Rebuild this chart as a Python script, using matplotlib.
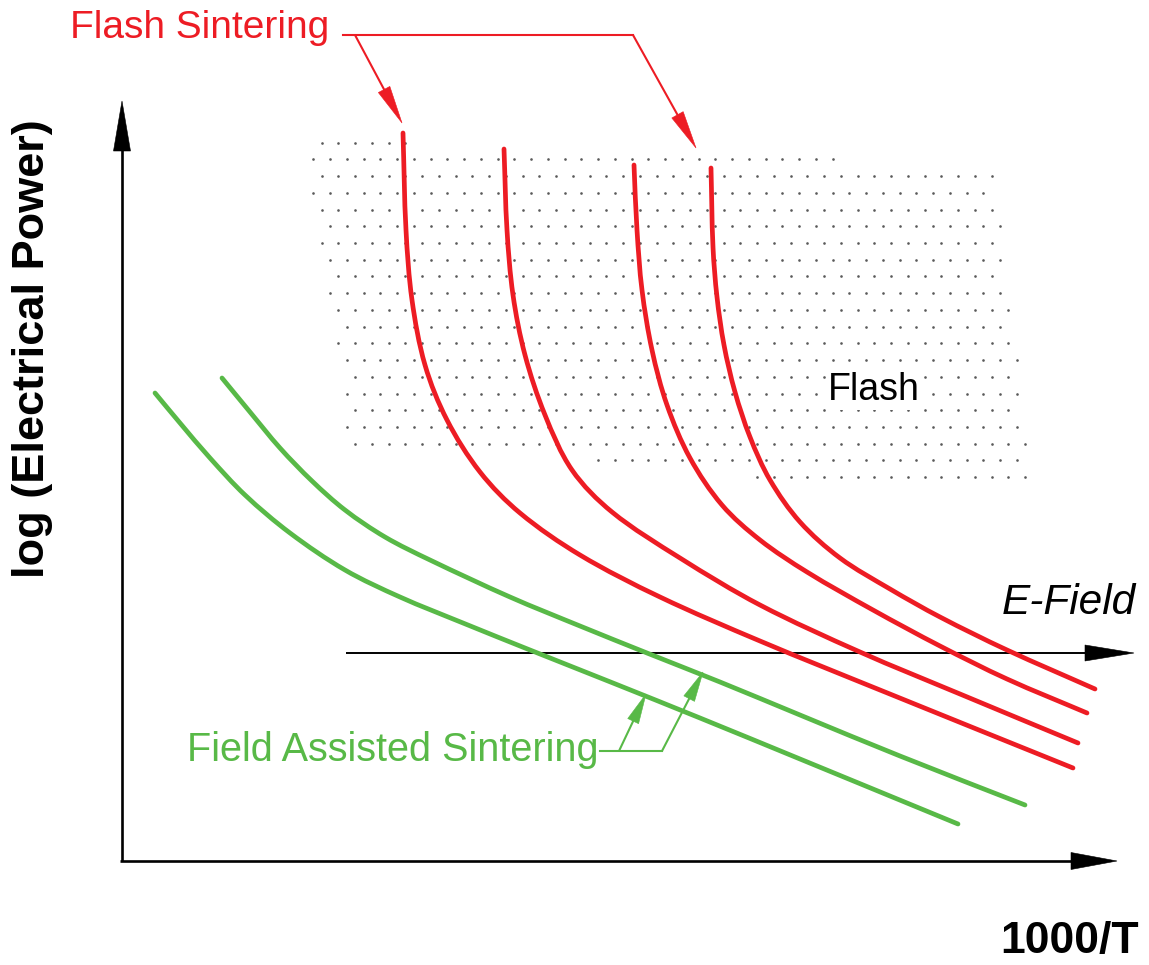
import numpy as np
import matplotlib
matplotlib.use("Agg")
import matplotlib.pyplot as plt
from matplotlib.patches import Polygon, PathPatch
from matplotlib.path import Path

plt.rcParams['font.family'] = ['Liberation Sans', 'DejaVu Sans']

RED = '#ed1c24'
GREEN = '#58b947'
DOT = '#5a5a5a'

# drawing units are pixels, y grows downward
W, H = 1149, 965

# flash sintering curves, one per field strength
flash_x = [
    [403, 406, 412, 425, 447, 480, 520, 580, 660, 760, 880, 1073],
    [504, 507, 513, 525, 545, 572, 612, 680, 760, 860, 960, 1078],
    [634, 637, 642, 652, 667, 690, 722, 760, 807, 873, 940, 1007, 1087],
    [711, 713, 717, 724, 735, 750, 770, 800, 840, 890, 940, 1007, 1095],
]
flash_y = [
    [133, 230, 300, 365, 420, 472, 513, 555, 597, 641, 690, 768],
    [149, 230, 295, 355, 415, 470, 512, 558, 605, 652, 694, 743],
    [165, 230, 290, 350, 405, 458, 505, 540, 572, 610, 646, 679, 713],
    [168, 247, 297, 345, 392, 437, 480, 522, 558, 589, 617, 650, 689],
]

# field assisted sintering curves
fas_x = [
    [155, 180, 210, 245, 290, 345, 400, 463, 530, 613, 700, 800, 958],
    [222, 250, 280, 312, 345, 385, 430, 510, 580, 647, 720, 800, 900, 1025],
]
fas_y = [
    [393, 423, 458, 495, 533, 570, 597, 623, 650, 683, 718, 759, 824],
    [378, 412, 448, 481, 510, 537, 560, 597, 626, 653, 682, 715, 756, 805],
]

# dotted "Flash" region: first/last column index of every dot row
dot_first = [0, 0, 0, 0, 0, 1, 0, 1, 1, 1, 1, 2, 1, 2, 2, 2, 2, 2, 2, 17, 26]
dot_last = [5, 31, 40, 40, 40, 41, 40, 41, 40, 41, 41, 41, 41, 42, 41, 42, 41, 42, 42, 42, 42]
dot_x0, dot_y0, dot_step_x, dot_step_y = 313.3, 142.7, 16.75, 16.72

# axes and E-field arrow: (tail, tip)
y_axis = ((122, 861), (122, 101))
x_axis = ((120, 861), (1117, 861))
efield_arrow = ((346, 653), (1134, 653))

# leader lines
flash_leader = [(343, 35), (633, 35)]
flash_pointers = [((355, 35), (402, 123)), ((633, 35), (696, 148))]
fas_leader = [(600, 751), (662, 751)]
fas_pointers = [((619, 751), (646, 694)), ((662, 751), (703, 672))]


def smooth_curve(ax, xs, ys, color, lw):
    """Pass a cubic Bezier through the points (chord-scaled tangents)."""
    p = np.column_stack([xs, ys]).astype(float)
    n = len(p)
    tang = np.zeros_like(p)
    tang[0] = p[1] - p[0]
    tang[-1] = p[-1] - p[-2]
    tang[1:-1] = p[2:] - p[:-2]
    tang /= np.hypot(tang[:, 0], tang[:, 1])[:, None]
    verts, codes = [p[0]], [Path.MOVETO]
    for i in range(n - 1):
        seg = np.hypot(*(p[i + 1] - p[i])) / 3.0
        verts += [p[i] + tang[i] * seg, p[i + 1] - tang[i + 1] * seg, p[i + 1]]
        codes += [Path.CURVE4] * 3
    ax.add_patch(PathPatch(Path(verts, codes), fill=False, edgecolor=color,
                           lw=lw, capstyle='round', joinstyle='round', zorder=3))


def arrow(ax, tail, tip, length, width, color, lw, z=4):
    tail = np.asarray(tail, float)
    tip = np.asarray(tip, float)
    d = tip - tail
    d /= np.hypot(*d)
    n = np.array([-d[1], d[0]])
    base = tip - d * length
    ax.plot([tail[0], base[0] + d[0] * 2], [tail[1], base[1] + d[1] * 2],
            color=color, lw=lw, solid_capstyle='butt', zorder=z)
    ax.add_patch(Polygon([tip, base + n * width / 2, base - n * width / 2],
                         closed=True, facecolor=color, edgecolor=color,
                         lw=0.4, zorder=z))


fig = plt.figure(figsize=(W / 100, H / 100), dpi=100)
ax = fig.add_axes([0, 0, 1, 1])
ax.set_xlim(0, W)
ax.set_ylim(H, 0)
ax.axis('off')

# dot texture
dxs, dys = [], []
for k, (j0, j1) in enumerate(zip(dot_first, dot_last)):
    shift = dot_step_x / 2 if k % 2 == 0 else 0.0
    for j in range(j0, j1 + 1):
        dxs.append(dot_x0 + shift + j * dot_step_x)
        dys.append(dot_y0 + k * dot_step_y)
ax.plot(dxs, dys, 'o', ms=1.9, color=DOT, mec='none', zorder=1)

for xs, ys in zip(fas_x, fas_y):
    smooth_curve(ax, xs, ys, GREEN, 3.4)
for xs, ys in zip(flash_x, flash_y):
    smooth_curve(ax, xs, ys, RED, 3.4)

# axes
arrow(ax, *y_axis, length=50, width=17, color='black', lw=1.9)
arrow(ax, *x_axis, length=46, width=17, color='black', lw=1.9)
arrow(ax, *efield_arrow, length=49, width=16, color='black', lw=1.4, z=2)

# leaders
ax.plot(*zip(*flash_leader), color=RED, lw=1.5, zorder=4)
for tail, tip in flash_pointers:
    arrow(ax, tail, tip, length=38, width=13, color=RED, lw=1.5)
ax.plot(*zip(*fas_leader), color=GREEN, lw=1.5, zorder=4)
for tail, tip in fas_pointers:
    arrow(ax, tail, tip, length=30, width=12, color=GREEN, lw=1.5)

# labels
ax.text(70, 28, 'Flash Sintering', color=RED, fontsize=28, va='center', ha='left')
ax.text(187, 750, 'Field Assisted Sintering', color=GREEN, fontsize=28.5,
        va='center', ha='left')
ax.text(874, 390, 'Flash', color='black', fontsize=27, va='center', ha='center',
        zorder=5, bbox=dict(facecolor='white', edgecolor='none', pad=1))
ax.text(1002, 603, 'E-Field', color='black', fontsize=30.5, style='italic',
        va='center', ha='left')
ax.text(33, 349, 'log (Electrical Power)', color='black', fontsize=32.5,
        fontweight='bold', rotation=90, va='center', ha='center')
ax.text(1070, 942, '1000/T', color='black', fontsize=32, fontweight='bold',
        va='center', ha='center')

fig.savefig('out.png', dpi=100)
